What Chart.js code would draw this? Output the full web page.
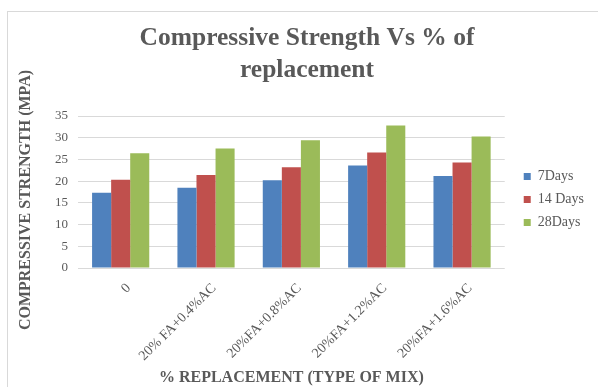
<!DOCTYPE html>
<html>
<head>
<meta charset="utf-8">
<script src="https://cdn.jsdelivr.net/npm/chart.js@4/dist/chart.umd.min.js"></script>
<style>
  html, body { margin: 0; padding: 0; background: #ffffff; }
  #wrap { position: absolute; left: 0; top: 0; width: 598px; height: 387px; }
</style>
</head>
<body>
<div id="wrap"><canvas id="c" width="598" height="387"></canvas></div>
<script>
// Mix types and compressive strength (MPa) at each curing age
const mixTypes = ['0', '20% FA+0.4%AC', '20%FA+0.8%AC', '20%FA+1.2%AC', '20%FA+1.6%AC'];
const days7 = [17.3, 18.5, 20.2, 23.6, 21.2];
const days14 = [20.3, 21.4, 23.2, 26.6, 24.3];
const days28 = [26.4, 27.5, 29.4, 32.8, 30.3];
const yTicks = [0, 5, 10, 15, 20, 25, 30, 35];

const textColor = '#595959';
const serif = '"Liberation Serif", "Times New Roman", serif';

// Thin outer frame around the chart
const framePlugin = {
  id: 'frame',
  beforeDraw(chart) {
    const ctx = chart.ctx;
    ctx.save();
    ctx.fillStyle = '#ffffff';
    ctx.fillRect(0, 0, chart.width, chart.height);
    ctx.strokeStyle = '#d9d9d9';
    ctx.lineWidth = 1;
    ctx.strokeRect(7.5, 11.5, chart.width + 10, chart.height + 10);
    ctx.restore();
  }
};

// Small offsets for the title and legend blocks after layout
const nudgePlugin = {
  id: 'nudge',
  afterLayout(chart) {
    const t = chart.titleBlock;
    if (t) { t.left += 10; t.right += 10; }
    const l = chart.legend;
    if (l) { l.left += 10; l.right += 10; l.top += 6; l.bottom += 6; }
  }
};

new Chart(document.getElementById('c'), {
  type: 'bar',
  data: {
    labels: mixTypes,
    datasets: [
      { label: '7Days', data: days7, backgroundColor: '#4f81bd' },
      { label: '14 Days', data: days14, backgroundColor: '#c0504d' },
      { label: '28Days', data: days28, backgroundColor: '#9bbb59' }
    ]
  },
  options: {
    responsive: false,
    animation: false,
    events: [],
    layout: { padding: { left: 10, right: 14, top: 0, bottom: 0 } },
    datasets: { bar: { categoryPercentage: 0.67, barPercentage: 1.0 } },
    plugins: {
      title: {
        display: true,
        text: ['Compressive Strength Vs % of', 'replacement'],
        color: textColor,
        font: { family: serif, size: 25.5, weight: 'bold', lineHeight: 1.255 },
        padding: { top: 22, bottom: 30 }
      },
      legend: {
        position: 'right',
        labels: {
          color: textColor,
          font: { family: serif, size: 14 },
          boxWidth: 7,
          boxHeight: 7,
          padding: 9
        }
      },
      tooltip: { enabled: false }
    },
    scales: {
      x: {
        grid: { display: false },
        border: { display: false },
        ticks: {
          color: textColor,
          font: { family: serif, size: 14 },
          minRotation: 45,
          maxRotation: 45,
          padding: 4,
          labelOffset: 8
        },
        title: {
          display: true,
          text: '% REPLACEMENT (TYPE OF MIX)',
          color: textColor,
          font: { family: serif, size: 16, weight: 'bold' },
          padding: { top: 0, bottom: 0 }
        },
        afterFit(scale) { scale.height = 119; }
      },
      y: {
        min: 0,
        max: 35,
        afterBuildTicks(scale) { scale.ticks = yTicks.map(v => ({ value: v })); },
        grid: { color: '#d9d9d9', drawTicks: false },
        border: { display: false },
        ticks: {
          color: textColor,
          font: { family: serif, size: 13 },
          padding: 10
        },
        title: {
          display: true,
          // trailing spaces set the label a little lower along the axis
          text: 'COMPRESSIVE STRENGTH (MPA)    ',
          color: textColor,
          font: { family: serif, size: 16, weight: 'bold' },
          padding: { top: 6, bottom: 2 }
        },
        afterFit(scale) { scale.width = 68; }
      }
    }
  },
  plugins: [framePlugin, nudgePlugin]
});
</script>
</body>
</html>
